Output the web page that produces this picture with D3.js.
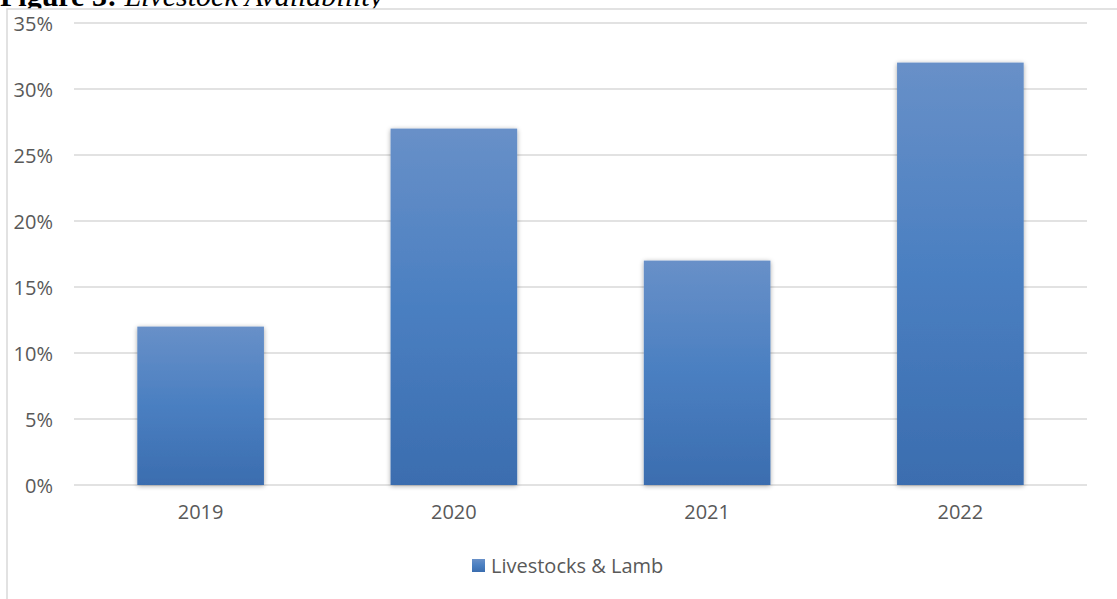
<!DOCTYPE html>
<html>
<head>
<meta charset="utf-8">
<script src="https://cdn.jsdelivr.net/npm/d3@7"></script>
<style>
  body { margin: 0; background: #fff; }
  svg { display: block; }
  .tick text { font-family: "Open Sans", sans-serif; font-size: 20px; fill: #595959; }
</style>
</head>
<body>
<svg id="chart" width="1117" height="599"></svg>
<script>
var years = ["2019", "2020", "2021", "2022"];
var values = [0.12, 0.27, 0.17, 0.32];
var yTicks = [0, 0.05, 0.10, 0.15, 0.20, 0.25, 0.30, 0.35];
var seriesName = "Livestocks & Lamb";

(function() {
  var svg = d3.select("svg#chart");
  var left = 74, right = 1087, top = 23, bottom = 485;

  var x = d3.scaleBand().domain(years).range([left, right]).paddingInner(0.5).paddingOuter(0.25);
  var y = d3.scaleLinear().domain([0, 0.35]).range([bottom, top]);

  var defs = svg.append("defs");
  var grad = defs.append("linearGradient").attr("id", "barGrad")
    .attr("x1", 0).attr("y1", 0).attr("x2", 0).attr("y2", 1);
  grad.append("stop").attr("offset", "0%").attr("stop-color", "#6890c8");
  grad.append("stop").attr("offset", "50%").attr("stop-color", "#4a7fc1");
  grad.append("stop").attr("offset", "100%").attr("stop-color", "#3b6daf");

  var shadow = defs.append("filter").attr("id", "shadow")
    .attr("x", "-10%").attr("y", "-10%").attr("width", "120%").attr("height", "120%");
  shadow.append("feGaussianBlur").attr("in", "SourceAlpha").attr("stdDeviation", 2.5);
  shadow.append("feOffset").attr("dx", 0).attr("dy", 1).attr("result", "blur");
  shadow.append("feComponentTransfer").append("feFuncA").attr("type", "linear").attr("slope", 0.35);
  var merge = shadow.append("feMerge");
  merge.append("feMergeNode");
  merge.append("feMergeNode").attr("in", "SourceGraphic");

  // caption above the chart frame (cut off by the page top, as in the source)
  var cap = svg.append("text").attr("x", 0).attr("y", 6)
    .style("font-family", "'Liberation Serif', 'Times New Roman', serif")
    .style("font-size", "30px").style("fill", "#000");
  cap.append("tspan").style("font-weight", "bold").text("Figure 3: ");
  cap.append("tspan").style("font-style", "italic").text("Livestock Availability");

  // chart frame
  svg.append("rect").attr("x", 7).attr("y", 9).attr("width", 1130).attr("height", 620)
    .attr("fill", "#fff").attr("stroke", "#d9d9d9").attr("stroke-width", 1.5);

  // gridlines
  svg.append("g").selectAll("line").data(yTicks).enter().append("line")
    .attr("x1", left).attr("x2", right)
    .attr("y1", function(d) { return y(d); }).attr("y2", function(d) { return y(d); })
    .attr("stroke", "#d9d9d9").attr("stroke-width", 1.5);

  // y axis labels
  var yAxis = d3.axisLeft(y).tickValues(yTicks).tickFormat(d3.format(".0%")).tickSize(0).tickPadding(21);
  var gy = svg.append("g").attr("transform", "translate(" + left + ",0)").call(yAxis);
  gy.select(".domain").remove();
  gy.selectAll(".tick text").attr("dy", "0.35em");

  // bars
  svg.append("g").selectAll("rect").data(values).enter().append("rect")
    .attr("x", function(d, i) { return x(years[i]); })
    .attr("width", x.bandwidth())
    .attr("y", function(d) { return y(d); })
    .attr("height", function(d) { return bottom - y(d); })
    .attr("fill", "url(#barGrad)")
    .attr("filter", "url(#shadow)");

  // x axis labels
  var xAxis = d3.axisBottom(x).tickSize(0).tickPadding(20);
  var gx = svg.append("g").attr("transform", "translate(0," + bottom + ")").call(xAxis);
  gx.select(".domain").remove();

  // legend
  var lg = svg.append("g").attr("transform", "translate(472,559)");
  lg.append("rect").attr("width", 13).attr("height", 13).attr("fill", "url(#barGrad)");
  lg.append("text").attr("x", 19).attr("y", 7).attr("dy", "0.35em")
    .style("font-family", "'Open Sans', sans-serif").style("font-size", "20px")
    .style("fill", "#595959").text(seriesName);
})();
</script>
</body>
</html>
